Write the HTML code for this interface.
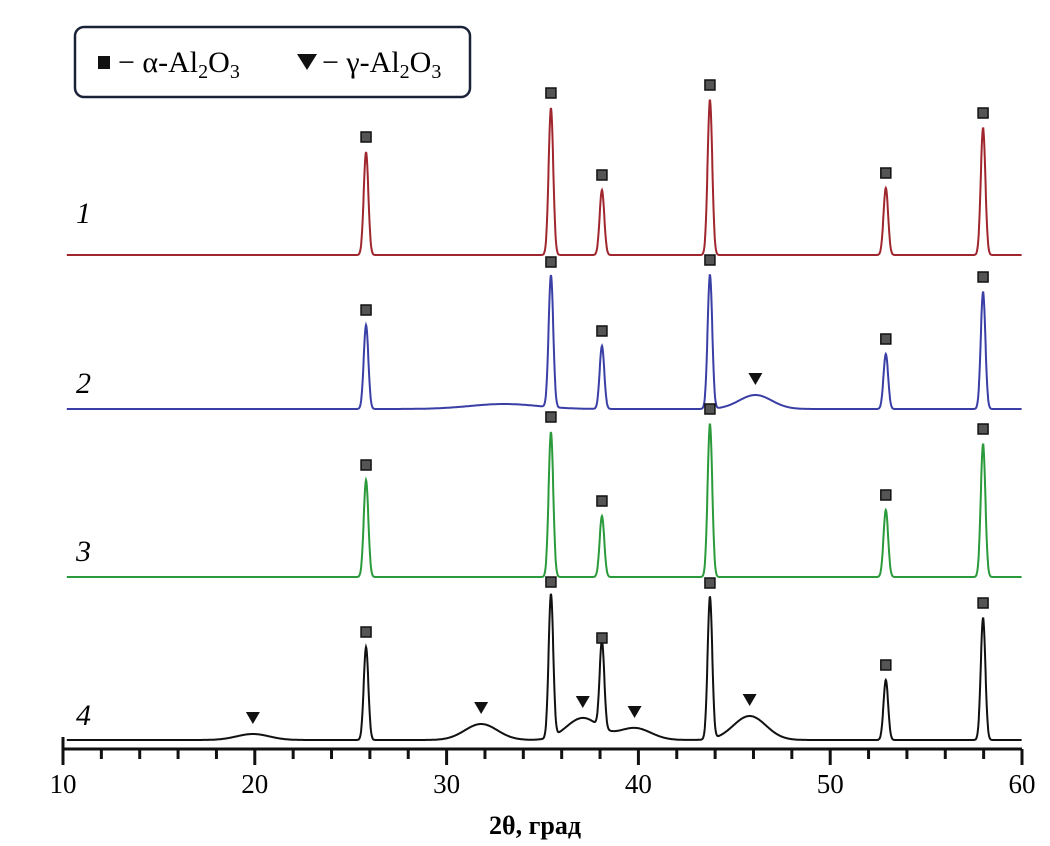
<!DOCTYPE html>
<html><head><meta charset="utf-8"><style>
html,body{margin:0;padding:0;background:#fff;}
svg{display:block;font-family:"Liberation Serif",serif;}
</style></head><body>
<svg id="chart" width="1050" height="846" viewBox="0 0 1050 846">
<g>
<rect x="75" y="27" width="395" height="70" rx="9" fill="#fff" stroke="#1a2238" stroke-width="2.5"/>
<rect x="98" y="56" width="12" height="13" fill="#111"/>
<text x="118" y="72" font-size="30">− α-Al<tspan font-size="20" dy="6">2</tspan><tspan dy="-6">O</tspan><tspan font-size="20" dy="6">3</tspan></text>
<path d="M297,54 L317,54 L307,70 Z" fill="#111"/>
<text x="322" y="72" font-size="30">− γ-Al<tspan font-size="20" dy="6">2</tspan><tspan dy="-6">O</tspan><tspan font-size="20" dy="6">3</tspan></text>
</g>
<g id="plot"></g>
<text x="535" y="834" font-size="26" font-weight="bold" text-anchor="middle">2θ, град</text>
</svg>
<script>
const xTicks=[10,20,30,40,50,60];
const seriesNames=["1","2","3","4"];
const seriesColors=["#a0262e","#3a3fa6","#2a9a3a","#111111"];
const baselines=[255,409,577,740];
const alphaPos=[25.8,35.44,38.1,43.73,52.9,57.97];
const peaks1=[103,147,65,155,67,127];
const peaks2=[84,132,63,134,55,117];
const peaks3=[97,145,61,153,67,133];
const peaks4=[93,143,87,142,60,122];
const gamma2Pos=[46.1];const gamma2H=[14];
const gamma4Pos=[19.9,31.8,37.1,39.8,45.8];const gamma4H=[6,16,22,12,24];
const hump2Pos=[33];const hump2H=[5];
const x0=63,x1=1022;
const X=v=>x0+(v-10)/50*(x1-x0);
const svg=document.getElementById('plot');
const NS='http://www.w3.org/2000/svg';
function mk(t,a){const e=document.createElementNS(NS,t);for(const k in a)e.setAttribute(k,a[k]);svg.appendChild(e);return e;}
const allPeaks=[peaks1,peaks2,peaks3,peaks4];
const gPos=[[],gamma2Pos,[],gamma4Pos],gH=[[],gamma2H,[],gamma4H];
const hPos=[[],hump2Pos,[],[]],hH=[[],hump2H,[],[]];
for(let s=0;s<4;s++){
  let d='';
  for(let v=10.2;v<=60;v+=0.02){
    let y=0;
    alphaPos.forEach((p,i)=>{y+=allPeaks[s][i]*Math.exp(-Math.pow((v-p)/0.17,2));});
    gPos[s].forEach((p,i)=>{y+=gH[s][i]*Math.exp(-Math.pow((v-p)/1.2,2));});
    hPos[s].forEach((p,i)=>{y+=hH[s][i]*Math.exp(-Math.pow((v-p)/2.5,2));});
    d+=(d?'L':'M')+X(v).toFixed(1)+','+(baselines[s]-y).toFixed(1);
  }
  const p=mk('path',{d:d,fill:'none',stroke:seriesColors[s],'stroke-width':2});
  
  
  alphaPos.forEach((pp,i)=>{
    const r=mk('rect',{x:X(pp)-5,y:baselines[s]-allPeaks[s][i]-20,width:10,height:10,fill:'#555',stroke:'#111','stroke-width':1.5});
    
    
  });
  gPos[s].forEach((pp,i)=>{
    const cx=X(pp),ty=baselines[s]-gH[s][i]-22;
    const t=mk('path',{d:`M${cx-7},${ty} L${cx+7},${ty} L${cx},${ty+12} Z`,fill:'#111'});
    
    
  });
  const lb=mk('text',{x:76,y:[223,393,561,725][s],'font-size':30,'font-style':'italic'});
  lb.textContent=seriesNames[s];
  
  
}
const ax=mk('path',{d:`M${x0},749 L${x1},749 M${x0},737 L${x0},765`,stroke:'#111','stroke-width':3,fill:'none'});


for(let v=12;v<=60;v+=2){
  const major=(v%10===0);
  const t=mk('line',{x1:X(v),x2:X(v),y1:749,y2:major?765:759,stroke:'#111','stroke-width':3});
  
  
}
xTicks.forEach(v=>{
  const t=mk('text',{x:X(v),y:793,'font-size':27,'text-anchor':'middle'});
  t.textContent=v;
  
  
});
</script>
</body></html>
